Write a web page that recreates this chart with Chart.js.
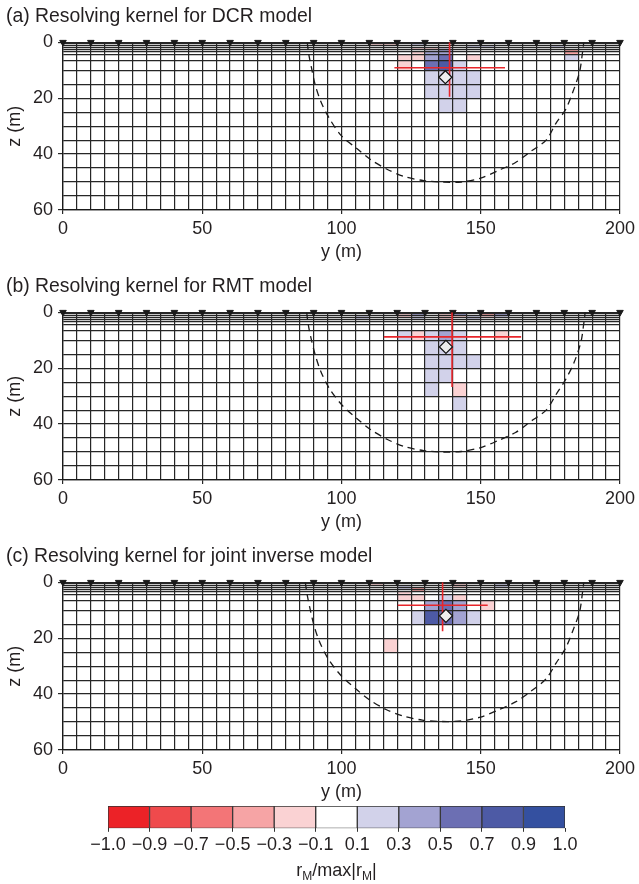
<!DOCTYPE html>
<html>
<head>
<meta charset="utf-8">
<script src="https://cdn.jsdelivr.net/npm/chart.js@4.4.1/dist/chart.umd.min.js"></script>
<style>
  html, body { margin: 0; padding: 0; background: #fff; }
  body { width: 639px; height: 884px; position: relative; overflow: hidden; }
  .panel { position: absolute; left: 0; width: 639px; }
  canvas { display: block; }
</style>
</head>
<body>
<div class="panel" style="top:0"><canvas id="chartA" width="639" height="270"></canvas></div>
<div class="panel" style="top:270px"><canvas id="chartB" width="639" height="270"></canvas></div>
<div class="panel" style="top:540px"><canvas id="chartC" width="639" height="270"></canvas></div>
<div class="panel" style="top:795px"><canvas id="chartBar" width="639" height="89"></canvas></div>

<script>
// Resolving kernels for DCR, RMT and joint inverse models

const FONT = 'Liberation Sans, Arial, Helvetica, sans-serif';
const INK = '#231f20';
const GRID = '#262626';

// ============ DATA ============

// model mesh: layer boundaries (z, m) and cell width (y, m)
const zBounds = [0, 0.6, 1.2, 1.8, 2.5, 3.3, 4.5, 6.7, 10, 15, 20, 25, 30, 35, 40, 45, 50, 55, 60];
const cellWidth = 5;

// electrode positions along the surface (y, m)
const electrodes = [0, 10, 20, 30, 40, 50, 60, 70, 80, 90, 100, 110, 120, 130, 140, 150, 160, 170, 180, 190, 200];

// colour scale r_M / max|r_M|
const binEdges = [-1.0, -0.9, -0.7, -0.5, -0.3, -0.1, 0.1, 0.3, 0.5, 0.7, 0.9, 1.0];
const binColors = ['#ec2227', '#ef4a4c', '#f37577', '#f6a4a5', '#fad2d3', '#ffffff',
                   '#d2d2ea', '#a3a3d2', '#6c6fb3', '#4d5aa5', '#3450a0'];
const barTicks = ['\u22121.0', '\u22120.9', '\u22120.7', '\u22120.5', '\u22120.3', '\u22120.1',
                  '0.1', '0.3', '0.5', '0.7', '0.9', '1.0'];

// kernel cells: [y left edge, z top edge, r_M/max|r_M|]
const kernelA = [
  [110, 0.6, -0.2], [115, 0.6, -0.2], [125, 0.6, 0.2], [135, 0, -0.2],
  [145, 1.2, 0.2], [150, 1.2, 0.2], [175, 1.2, 0.2],
  [125, 1.8, -0.2], [130, 1.8, -0.2], [135, 1.8, 0.2],
  [130, 2.5, 0.2], [135, 2.5, 0.4], [180, 2.5, -0.4],
  [125, 3.3, -0.2], [130, 3.3, 0.4], [135, 3.3, 0.4], [180, 3.3, -0.4],
  [120, 4.5, -0.2], [125, 4.5, -0.2], [130, 4.5, 0.4], [135, 4.5, 0.6], [145, 4.5, -0.2], [180, 4.5, 0.2],
  [120, 6.7, -0.2], [130, 6.7, 0.6], [135, 6.7, 0.8], [140, 6.7, 0.2],
  [130, 10, 0.2], [135, 10, 0.2], [140, 10, 0.2], [145, 10, 0.2],
  [130, 15, 0.2], [135, 15, 0.2], [140, 15, 0.2], [145, 15, 0.2],
  [135, 20, 0.2], [140, 20, 0.2]
];

const kernelB = [
  [120, 0, -0.6], [125, 0, -0.6], [135, 0, 0.6], [140, 0, 0.6], [145, 0, 0.4], [150, 0, -0.6], [155, 0, 0.6],
  [120, 0.6, -0.2], [125, 0.6, 0.4], [135, 0.6, -0.2], [140, 0.6, 0.4], [150, 0.6, -0.4], [155, 0.6, 0.4],
  [105, 1.2, 0.2], [120, 1.2, -0.2], [125, 1.2, 0.2], [135, 1.2, -0.2], [140, 1.2, -0.2], [145, 1.2, 0.2], [150, 1.2, -0.2], [155, 1.2, 0.2],
  [105, 1.8, 0.2], [125, 1.8, 0.2], [135, 1.8, -0.2], [145, 1.8, 0.2],
  [120, 6.7, 0.2], [125, 6.7, -0.2], [130, 6.7, 0.2], [135, 6.7, 0.4], [140, 6.7, 0.2], [155, 6.7, -0.2],
  [130, 10, 0.2], [135, 10, 0.2], [140, 10, 0.2],
  [130, 15, 0.2], [135, 15, 0.2], [140, 15, 0.2], [145, 15, 0.2],
  [130, 20, 0.2], [135, 20, 0.2],
  [130, 25, 0.2], [140, 25, -0.2],
  [140, 30, 0.2]
];

const kernelC = [
  [110, 0, -0.2], [130, 0, 0.4], [135, 0, 0.6], [140, 0, 0.6], [145, 0, 0.2],
  [110, 0.6, -0.2], [140, 0.6, -0.2], [155, 0.6, 0.2],
  [120, 1.2, 0.2], [140, 1.2, -0.2], [155, 1.2, 0.2],
  [120, 1.8, 0.2], [125, 1.8, -0.4],
  [125, 2.5, -0.4],
  [120, 3.3, -0.2],
  [120, 4.5, -0.2], [125, 4.5, -0.2], [135, 4.5, 0.2], [140, 4.5, -0.2],
  [130, 6.7, 0.4], [135, 6.7, 0.6], [140, 6.7, 0.4], [150, 6.7, -0.2],
  [125, 10, 0.2], [130, 10, 0.8], [135, 10, 0.6], [140, 10, 0.4], [145, 10, 0.2],
  [115, 20, -0.2]
];

// dashed sensitivity boundary [y, z]
const curveA = [[87.7, 0], [88.2, 4], [89.2, 9], [90.5, 15], [92.5, 21], [95.5, 27], [100, 33.5], [105.5, 38],
  [110.5, 42], [116.5, 45.5], [122.5, 48], [129.5, 49.5], [136.5, 50], [143, 50], [150, 48.6], [156, 46],
  [162.5, 43], [168, 39], [173.5, 35], [177, 29], [180.5, 24], [183, 18], [185.5, 10.5], [186.5, 4], [187, 0]];
const curveB = [[87.5, 0], [88, 4], [89, 9], [90.5, 15], [92.5, 21], [95.5, 27], [100, 33], [105.5, 38],
  [110.5, 42], [116.5, 45.5], [122.5, 48], [129.5, 49.5], [136.5, 50], [143, 49.8], [150, 48.4], [156, 46],
  [162.5, 43], [168, 39], [173.5, 35], [177, 29.5], [180.5, 24], [183.5, 18], [186, 10.5], [187, 4], [187.5, 0]];
const curveC = [[87, 0], [87.6, 4], [88.6, 9], [90, 15], [92, 21], [95, 27], [99.5, 33], [105, 38],
  [110, 42], [116, 45.5], [122, 47.8], [129, 49.3], [136, 49.8], [143, 49.6], [150, 48.2], [156, 45.8],
  [162.5, 42.8], [168, 39], [173.5, 34.5], [177, 29], [180.5, 23.5], [183, 17.5], [185.5, 10.5], [186.5, 4], [187, 0]];

// resolving point (diamond) and red cross-hair [y, z]
const pointA = [137.3, 12.5];
const vLineA = [[138.8, 0], [138.8, 19.5]];
const hLineA = [[119, 9.1], [158.7, 9.1]];

const pointB = [137.5, 12.4];
const vLineB = [[139.7, 0], [139.7, 26.7]];
const hLineB = [[115.2, 8.8], [164.5, 8.8]];

const pointC = [137.5, 12];
const vLineC = [[136.3, 0], [136.3, 17.5]];
const hLineC = [[120.2, 8.2], [152.5, 8.2]];

// ============ HELPERS ============

function colorFor(v) {
  const i = binEdges.findIndex(e => v < e) - 1;
  return binColors[i < 0 ? binColors.length - 1 : i];
}

const toXY = pts => pts.map(([x, y]) => ({ x, y }));

function makePanel(canvasId, title, cells, curve, point, vLine, hLine) {
  // kernel cells go under the mesh lines
  const cellPlugin = {
    id: 'kernelCells',
    beforeDraw(chart) {
      const { ctx, scales: { x, y } } = chart;
      ctx.save();
      cells.forEach(([y0, zTop, v]) => {
        const zBottom = zBounds[zBounds.indexOf(zTop) + 1];
        const left = x.getPixelForValue(y0);
        const right = x.getPixelForValue(y0 + cellWidth);
        const top = y.getPixelForValue(zTop);
        const bottom = y.getPixelForValue(zBottom);
        ctx.fillStyle = colorFor(v);
        ctx.fillRect(left, top, right - left, bottom - top);
      });
      ctx.restore();
    }
  };

  return new Chart(document.getElementById(canvasId), {
    type: 'scatter',
    data: {
      datasets: [
        { data: toXY([point]), pointStyle: 'rectRot', pointRadius: 6.5, backgroundColor: '#eeeeee', borderColor: '#111', borderWidth: 1.2 },
        { data: toXY(vLine), showLine: true, borderColor: '#e8262b', borderWidth: 1.6, pointRadius: 0 },
        { data: toXY(hLine), showLine: true, borderColor: '#e8262b', borderWidth: 1.6, pointRadius: 0 },
        { data: electrodes.map(e => ({ x: e, y: 0 })), pointStyle: 'triangle', rotation: 180, pointRadius: 3.8,
          backgroundColor: '#1a1a1a', borderColor: '#1a1a1a', borderWidth: 1, clip: false },
        { data: toXY(curve), showLine: true, borderColor: '#1a1a1a', borderWidth: 1.3, borderDash: [7, 5],
          tension: 0.3, pointRadius: 0 }
      ]
    },
    options: {
      responsive: false,
      animation: false,
      events: [],
      layout: { padding: { left: 6, right: 17, top: 0, bottom: 0 } },
      plugins: {
        legend: { display: false },
        tooltip: { enabled: false },
        title: {
          display: true, text: title, align: 'start', color: INK,
          font: { family: FONT, size: 19.4, weight: 'normal' },
          padding: { top: 5, bottom: 14 }
        }
      },
      scales: {
        x: {
          type: 'linear', min: 0, max: 200,
          afterFit: s => { s.height = 60; },
          ticks: {
            stepSize: 5, autoSkip: false, maxRotation: 0, padding: 4, color: INK,
            font: { family: FONT, size: 18 },
            callback: v => (v % 50 === 0 ? v : '')
          },
          grid: {
            color: GRID, lineWidth: 1.2, tickLength: 4,
            tickColor: c => (c.tick && c.tick.value % 50 === 0 ? GRID : 'rgba(0,0,0,0)')
          },
          border: { color: '#1a1a1a', width: 1.3 },
          title: { display: true, text: 'y (m)', color: INK, font: { family: FONT, size: 18 }, padding: { top: 0, bottom: 7 } }
        },
        y: {
          type: 'linear', min: 0, max: 60, reverse: true,
          afterBuildTicks: s => { s.ticks = zBounds.map(v => ({ value: v })); },
          afterFit: s => { s.width = 57; },
          ticks: {
            autoSkip: false, padding: 5, color: INK,
            font: { family: FONT, size: 18 },
            callback: v => (v % 20 === 0 ? v : '')
          },
          grid: {
            color: GRID, lineWidth: 1.2, tickLength: 5,
            tickColor: c => (c.tick && c.tick.value % 20 === 0 ? GRID : 'rgba(0,0,0,0)')
          },
          border: { color: '#1a1a1a', width: 1.3 },
          title: { display: true, text: 'z (m)', color: INK, font: { family: FONT, size: 18, lineHeight: 1 }, padding: 0 }
        }
      }
    },
    plugins: [cellPlugin]
  });
}

// ============ PANELS ============

makePanel('chartA', '(a) Resolving kernel for DCR model', kernelA, curveA, pointA, vLineA, hLineA);
makePanel('chartB', '(b) Resolving kernel for RMT model', kernelB, curveB, pointB, vLineB, hLineB);
makePanel('chartC', '(c) Resolving kernel for joint inverse model', kernelC, curveC, pointC, vLineC, hLineC);

// ============ COLOUR BAR ============

const barLabelPlugin = {
  id: 'barLabel',
  afterDraw(chart) {
    const { ctx, chartArea } = chart;
    const parts = [['r', false], ['M', true], ['/max|r', false], ['M', true], ['|', false]];
    const big = `18px ${FONT}`;
    const small = `12px ${FONT}`;
    ctx.save();
    let width = 0;
    parts.forEach(([t, sub]) => { ctx.font = sub ? small : big; width += ctx.measureText(t).width; });
    let x = (chartArea.left + chartArea.right) / 2 - width / 2;
    const base = 81;
    ctx.fillStyle = INK;
    ctx.textBaseline = 'alphabetic';
    parts.forEach(([t, sub]) => {
      ctx.font = sub ? small : big;
      ctx.fillText(t, x, sub ? base + 4 : base);
      x += ctx.measureText(t).width;
    });
    ctx.restore();
  }
};

new Chart(document.getElementById('chartBar'), {
  type: 'bar',
  data: {
    datasets: [{
      data: binColors.map((c, i) => ({ x: i + 0.5, y: 1 })),
      backgroundColor: binColors,
      borderColor: '#333',
      borderWidth: 1,
      borderSkipped: false,
      barPercentage: 1,
      categoryPercentage: 1
    }]
  },
  options: {
    responsive: false,
    animation: false,
    events: [],
    layout: { padding: { left: 108, right: 74, top: 11, bottom: 0 } },
    plugins: { legend: { display: false }, tooltip: { enabled: false } },
    scales: {
      x: {
        type: 'linear', min: 0, max: binColors.length, offset: false,
        afterBuildTicks: s => { s.ticks = barTicks.map((t, i) => ({ value: i })); },
        afterFit: s => { s.height = 55.7; },
        ticks: {
          autoSkip: false, maxRotation: 0, padding: 2, color: INK,
          font: { family: FONT, size: 18 },
          callback: (v, i) => barTicks[i]
        },
        grid: { offset: false, drawOnChartArea: false, tickLength: 3.5, color: '#333' },
        border: { display: false }
      },
      y: { display: false, min: 0, max: 1 }
    }
  },
  plugins: [barLabelPlugin]
});
</script>
</body>
</html>
